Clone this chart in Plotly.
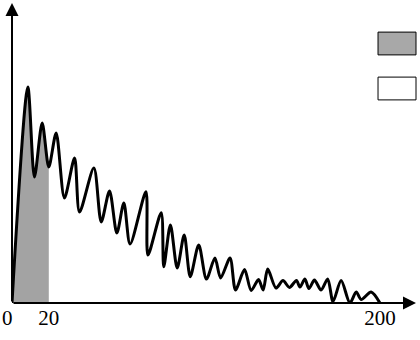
import plotly.graph_objects as go

# Curve (turning points)
x_vals = [0, 8.6, 12.2, 16.4, 20.0, 24.0, 28.5, 34.0, 36.7, 44.5, 48.5, 53.0, 57.0, 60.8, 64.2,
          72.8, 73.9, 81.1, 82.5, 86.1, 89.8, 93.6, 96.9, 101.5, 105.7, 110.3, 113.4, 118.5,
          121.5, 126.4, 130.0, 134.0, 136.5, 139.0, 143.5, 147.3, 150.8, 154.6, 156.5, 159.2,
          161.4, 164.4, 168.0, 171.6, 174.5, 178.9, 183.7, 187.1, 189.8, 195.2, 200.0]
y_vals = [0, 100, 58.3, 83.3, 63.0, 78.7, 48.6, 67.1, 42.1, 62.5, 37.5, 51.9, 32.4, 46.3, 27.3,
          51.5, 22.2, 41.8, 16.8, 36.1, 16.2, 31.5, 12.2, 26.9, 11.1, 20.8, 11.6, 20.8,
          6.0, 15.5, 5.8, 10.9, 6.0, 15.7, 6.9, 10.4, 7.2, 10.4, 7.4, 11.1,
          6.7, 10.6, 6.0, 11.1, 0.7, 10.4, 0.0, 5.1, 1.6, 5.1, 0.0]

shade_end = 20.0
tick_vals = [0, 20, 200]
tick_text = ["0", "20", "200"]

X_MAX = 219.6
Y_MAX = 138.9

shade_x = [x for x in x_vals if x <= shade_end]
shade_y = y_vals[:len(shade_x)]

fig = go.Figure()
fig.add_trace(go.Scatter(x=shade_x, y=shade_y, mode="lines", line=dict(width=0, shape="spline", smoothing=0.8),
                         fill="tozeroy", fillcolor="#a3a3a3", hoverinfo="skip", showlegend=False))
fig.add_trace(go.Scatter(x=x_vals, y=y_vals, mode="lines",
                         line=dict(color="black", width=3, shape="spline", smoothing=0.8),
                         showlegend=False))

font = dict(family="Liberation Serif", size=21, color="black")

fig.update_layout(
    width=420, height=340,
    margin=dict(l=12, r=4, t=3, b=37),
    paper_bgcolor="white", plot_bgcolor="white",
    xaxis=dict(range=[0, X_MAX], showgrid=False, zeroline=False, showline=False,
               tickvals=tick_vals[1:], ticktext=tick_text[1:], ticks="", tickfont=font,
               fixedrange=True),
    yaxis=dict(range=[0, Y_MAX], showgrid=False, zeroline=False, showline=False,
               showticklabels=False, ticks="", fixedrange=True),
    font=font,
)

# axes with arrows
fig.add_annotation(x=X_MAX, y=0, ax=0, ay=0, xref="x", yref="y", axref="x", ayref="y",
                   text="", showarrow=True, arrowhead=2, arrowsize=1.3, arrowwidth=2, arrowcolor="black")
fig.add_annotation(x=0, y=Y_MAX, ax=0, ay=0, xref="x", yref="y", axref="x", ayref="y",
                   text="", showarrow=True, arrowhead=2, arrowsize=1.3, arrowwidth=2, arrowcolor="black")
# origin label
fig.add_annotation(x=tick_vals[0], y=0, xref="x", yref="y", text=tick_text[0], showarrow=False,
                   xanchor="right", yanchor="top", xshift=3, yshift=-1, font=font)

# legend boxes (no text)
fig.add_shape(type="rect", xref="paper", yref="paper", x0=0.906, x1=1.0, y0=0.827, y1=0.903,
              fillcolor="#a8a8a8", line=dict(color="black", width=1))
fig.add_shape(type="rect", xref="paper", yref="paper", x0=0.906, x1=1.0, y0=0.677, y1=0.753,
              fillcolor="white", line=dict(color="black", width=1))

fig.write_html("out.html", config={"displayModeBar": False},
               post_script="document.body.style.margin='0';document.body.style.padding='0';")
